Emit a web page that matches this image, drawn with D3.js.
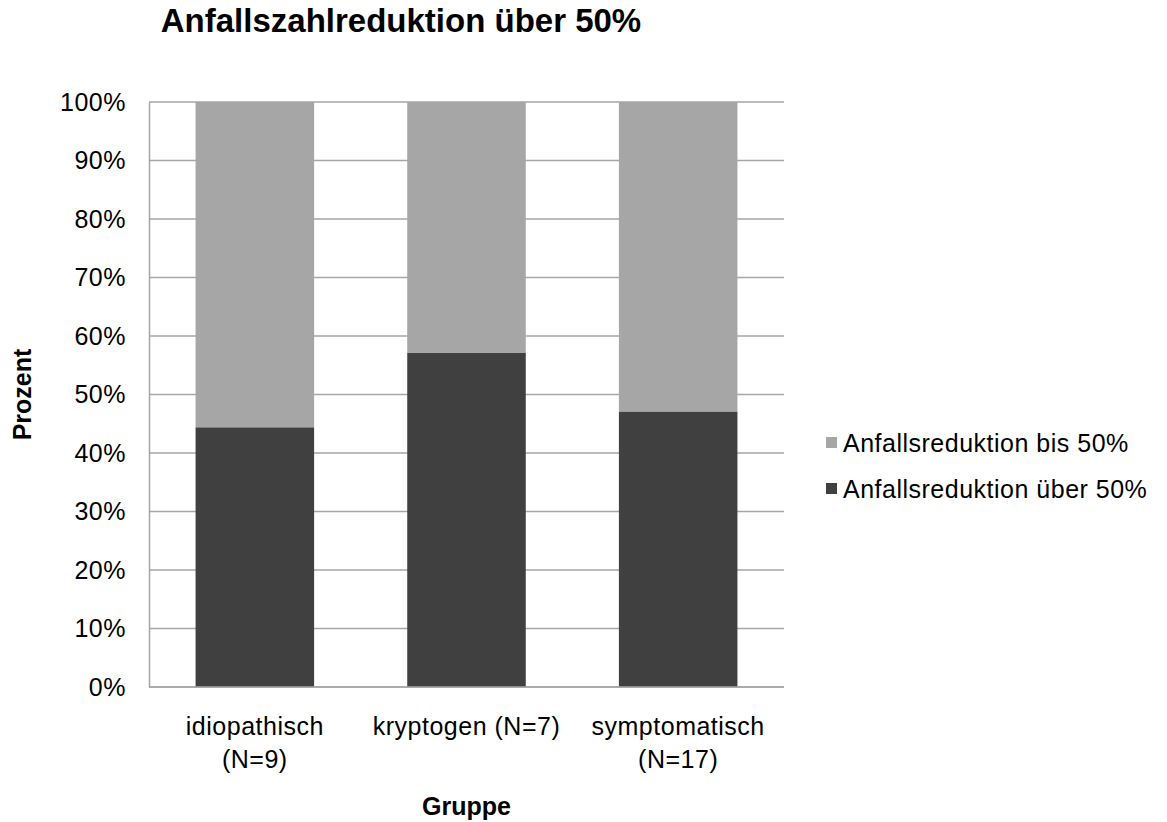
<!DOCTYPE html>
<html lang="de">
<head>
<meta charset="utf-8">
<title>Anfallszahlreduktion über 50%</title>
<style>
body { margin: 0; background: #fff; }
text { font-family: "Liberation Sans", Arial, sans-serif; fill: #000; }
.grid line { stroke: #a6a6a6; stroke-width: 1.5px; }
.axis path, .axis line { stroke: #a6a6a6; stroke-width: 1.5px; }
.lbl { font-size: 25px; letter-spacing: 0.5px; }
</style>
</head>
<body>
<div id="chart"></div>
<script src="https://d3js.org/d3.v7.min.js"></script>
<script>

// data
var groups = ["idiopathisch", "kryptogen", "symptomatisch"];
var groupLabels = [["idiopathisch", "(N=9)"], ["kryptogen (N=7)"], ["symptomatisch", "(N=17)"]];
var ueber50 = [44.4, 57.1, 47.1];   // Anfallsreduktion über 50%
var bis50 = [55.6, 42.9, 52.9];     // Anfallsreduktion bis 50%
var yTicks = [0, 10, 20, 30, 40, 50, 60, 70, 80, 90, 100];
var seriesNames = ["Anfallsreduktion bis 50%", "Anfallsreduktion über 50%"];
var seriesColors = ["#a6a6a6", "#404040"];

const width = 1167,
    height = 822,
    margin = { top: 102, right: 383, bottom: 135, left: 149 };

var svg = d3.select("#chart")
  .append("svg")
    .attr("width", width)
    .attr("height", height);

var x = d3.scaleBand()
    .domain(groups)
    .range([margin.left, width - margin.right])
    .paddingInner(0.44)
    .paddingOuter(0.22);

var y = d3.scaleLinear()
    .domain([0, 100])
    .range([height - margin.bottom, margin.top]);

// gridlines
svg.append("g")
    .attr("class", "grid")
  .selectAll("line")
  .data(yTicks)
  .enter().append("line")
    .attr("x1", margin.left)
    .attr("x2", width - margin.right)
    .attr("y1", function(d) { return y(d); })
    .attr("y2", function(d) { return y(d); });

// stacked bars
var rows = groups.map(function(g, i) {
  return { group: g, ueber: ueber50[i], bis: bis50[i] };
});
var stack = d3.stack().keys(["ueber", "bis"]);
var layers = stack(rows);
var color = d3.scaleOrdinal().domain(["bis", "ueber"]).range(seriesColors);

svg.append("g")
  .selectAll("g")
  .data(layers)
  .enter().append("g")
    .attr("fill", function(d) { return color(d.key); })
  .selectAll("rect")
  .data(function(d) { return d; })
  .enter().append("rect")
    .attr("x", function(d) { return x(d.data.group); })
    .attr("width", x.bandwidth())
    .attr("y", function(d) { return y(d[1]); })
    .attr("height", function(d) { return y(d[0]) - y(d[1]); });

// y axis
var yAxis = svg.append("g")
    .attr("class", "axis")
    .attr("transform", "translate(" + margin.left + ",0)")
    .call(d3.axisLeft(y).tickValues(yTicks).tickSize(0).tickPadding(23)
      .tickFormat(function(d) { return d + "%"; }));
yAxis.selectAll("text")
    .attr("class", "lbl")
    .attr("font-size", null)
    .attr("font-family", null);
yAxis.attr("font-size", null).attr("font-family", null);

// x axis line
svg.append("line")
    .attr("x1", margin.left)
    .attr("x2", width - margin.right)
    .attr("y1", y(0))
    .attr("y2", y(0))
    .attr("stroke", "#a6a6a6")
    .attr("stroke-width", 1.5);

// category labels
svg.append("g")
  .selectAll("text")
  .data(groups)
  .enter().append("text")
    .attr("class", "lbl")
    .attr("text-anchor", "middle")
    .attr("x", function(d) { return x(d) + x.bandwidth() / 2; })
    .attr("y", 735)
    .each(function(d, i) {
      var t = d3.select(this);
      groupLabels[i].forEach(function(line, j) {
        t.append("tspan")
            .attr("x", x(d) + x.bandwidth() / 2)
            .attr("dy", j === 0 ? 0 : 33)
            .text(line);
      });
    });

// title
svg.append("text")
    .attr("x", 401)
    .attr("y", 32)
    .attr("text-anchor", "middle")
    .style("font-size", "33px")
    .style("font-weight", "bold")
    .text("Anfallszahlreduktion über 50%");

// axis titles
svg.append("text")
    .attr("transform", "translate(31," + y(50) + ") rotate(-90)")
    .attr("text-anchor", "middle")
    .style("font-size", "25px")
    .style("font-weight", "bold")
    .text("Prozent");

svg.append("text")
    .attr("x", x("kryptogen") + x.bandwidth() / 2)
    .attr("y", 815)
    .attr("text-anchor", "middle")
    .style("font-size", "25px")
    .style("font-weight", "bold")
    .text("Gruppe");

// legend
var legend = svg.append("g")
  .selectAll("g")
  .data(seriesNames)
  .enter().append("g")
    .attr("transform", function(d, i) { return "translate(826," + (443 + i * 46) + ")"; });

legend.append("rect")
    .attr("x", 0)
    .attr("y", -6)
    .attr("width", 11)
    .attr("height", 11)
    .attr("fill", function(d, i) { return seriesColors[i]; });

legend.append("text")
    .attr("class", "lbl")
    .attr("x", 17)
    .attr("y", 9)
    .text(function(d) { return d; });

</script>
</body>
</html>
